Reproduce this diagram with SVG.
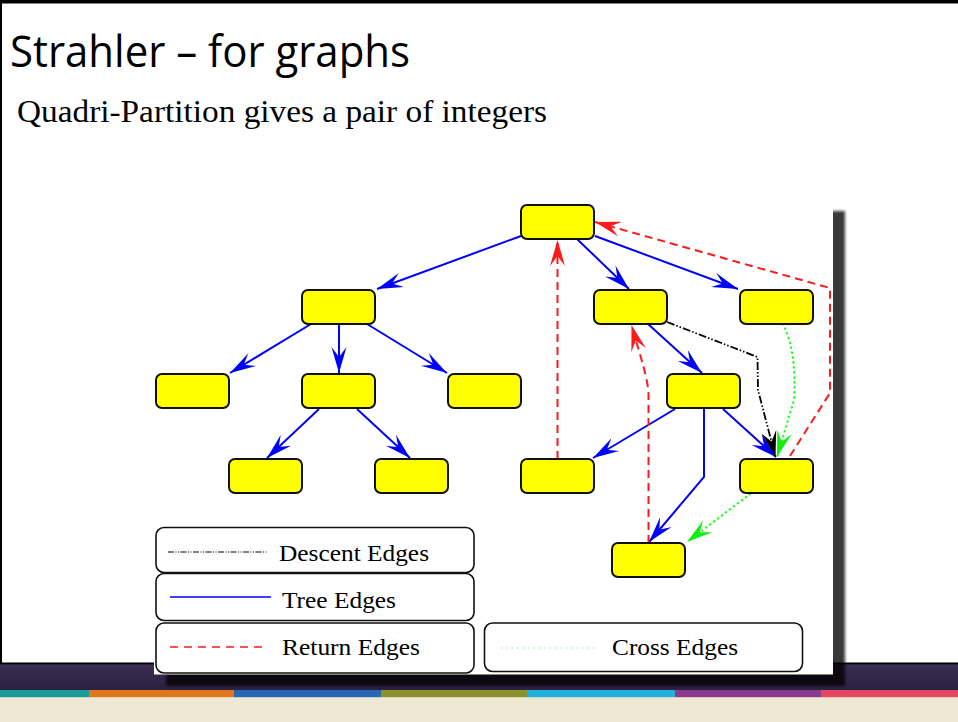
<svg xmlns="http://www.w3.org/2000/svg" width="958" height="722" viewBox="0 0 958 722">
<defs>
<style>
.node rect{fill:#ffff00;stroke:#111;stroke-width:2}
.tree{stroke:#0000ff;stroke-width:2;fill:none;marker-end:url(#mb)}
.ret{stroke:#ff1a1a;stroke-width:2;stroke-dasharray:8 5;fill:none;marker-end:url(#mr)}
.desc{stroke:#000;stroke-width:1.8;stroke-dasharray:8 2 1.5 2 1.5 2;fill:none;marker-end:url(#mk)}
.cross{stroke:#22ff22;stroke-width:2.2;stroke-dasharray:0.5 4.5;stroke-linecap:round;fill:none;marker-end:url(#mg)}
.leg rect{fill:#fff;stroke:#111;stroke-width:1.6}
.lt{font-family:"Liberation Serif","Times New Roman",serif;font-size:24px;fill:#000}
</style>
<marker id="mb" viewBox="-28 -10 30 20" refX="0" refY="0" markerWidth="30" markerHeight="20" markerUnits="userSpaceOnUse" orient="auto"><path d="M0,0 L-26,-7.5 L-16,0 L-26,7.5 Z" fill="#0000ff"/></marker>
<marker id="mr" viewBox="-28 -10 30 20" refX="0" refY="0" markerWidth="30" markerHeight="20" markerUnits="userSpaceOnUse" orient="auto"><path d="M0,0 L-26,-7.5 L-16,0 L-26,7.5 Z" fill="#ff1a1a"/></marker>
<marker id="mk" viewBox="-28 -10 30 20" refX="0" refY="0" markerWidth="30" markerHeight="20" markerUnits="userSpaceOnUse" orient="auto"><path d="M0,0 L-26,-7.5 L-16,0 L-26,7.5 Z" fill="#000"/></marker>
<marker id="mg" viewBox="-28 -10 30 20" refX="0" refY="0" markerWidth="30" markerHeight="20" markerUnits="userSpaceOnUse" orient="auto"><path d="M0,0 L-26,-7.5 L-16,0 L-26,7.5 Z" fill="#11ee11"/></marker>
<filter id="blur" x="-5%" y="-5%" width="110%" height="110%"><feGaussianBlur stdDeviation="1.8"/></filter>
<linearGradient id="band" x1="0" y1="0" x2="0" y2="1"><stop offset="0" stop-color="#3b2e54"/><stop offset="1" stop-color="#2a2140"/></linearGradient>
</defs>

<!-- slide background -->
<rect x="0" y="0" width="958" height="722" fill="#ffffff"/>
<rect x="0" y="0" width="958" height="3.5" fill="#000"/>
<rect x="0" y="0" width="2" height="664" fill="#000"/>
<rect x="0" y="663" width="958" height="28" fill="url(#band)"/>
<rect x="0" y="662.5" width="958" height="1.8" fill="#000"/>
<rect x="0" y="690" width="89" height="7.5" fill="#1b9c98"/>
<rect x="89" y="690" width="145" height="7.5" fill="#e2761a"/>
<rect x="234" y="690" width="147" height="7.5" fill="#2a68b6"/>
<rect x="381" y="690" width="146" height="7.5" fill="#8b9031"/>
<rect x="527" y="690" width="148" height="7.5" fill="#22afd9"/>
<rect x="675" y="690" width="146" height="7.5" fill="#8b3a8c"/>
<rect x="821" y="690" width="137" height="7.5" fill="#e2475f"/>
<rect x="0" y="697.5" width="958" height="24.5" fill="#eee7d2"/>

<!-- titles -->
<text x="10" y="67" font-family="'Open Sans','Noto Sans',sans-serif" font-size="44" textLength="400" lengthAdjust="spacingAndGlyphs" fill="#000">Strahler – for graphs</text>
<text x="17" y="122" font-family="'Liberation Serif','Times New Roman',serif" font-size="32" textLength="530" lengthAdjust="spacingAndGlyphs" fill="#000">Quadri-Partition gives a pair of integers</text>

<!-- figure shadow and panel -->
<rect x="166" y="211" width="679" height="475" fill="#000" fill-opacity="0.78" filter="url(#blur)"/>
<rect x="154" y="200" width="679" height="474.5" fill="#fff"/>

<!-- connectors -->
<g id="connectors">
<path class="tree" d="M521,236 L377,289"/>
<path class="tree" d="M577,239 L629,289"/>
<path class="tree" d="M595,236 L738,289"/>
<path class="tree" d="M311,324 L230,373"/>
<path class="tree" d="M339,324 L339,373"/>
<path class="tree" d="M367,324 L447,373"/>
<path class="tree" d="M319,409 L267,458"/>
<path class="tree" d="M357,409 L410,458"/>
<path class="tree" d="M648,324 L702,373"/>
<path class="tree" d="M675,409 L593,458"/>
<path class="tree" d="M723,409 L776,457"/>
<path class="tree" d="M704,409 L704,477 L649,542"/>
<path class="ret" d="M557.5,459 L557.5,240"/>
<path class="ret" d="M648.5,543 L648.5,395 C648.5,380 640,355 631.5,325"/>
<path class="ret" d="M790,456 L830,393 L830,288 L595,222"/>
<path class="desc" d="M667,322 L757.5,357 L758,390 L775.5,457"/>
<path class="cross" d="M783,324 Q797,352 794,400 L777,457"/>
<path class="cross" d="M750,494 L687,542"/>
</g>

<!-- nodes -->
<g id="n-root" class="node"><rect x="521" y="205" width="73" height="34" rx="6"/></g>
<g id="n-a" class="node"><rect x="302" y="290" width="73" height="34" rx="6"/></g>
<g id="n-b" class="node"><rect x="594" y="290" width="73" height="34" rx="6"/></g>
<g id="n-c" class="node"><rect x="740" y="290" width="73" height="34" rx="6"/></g>
<g id="n-a1" class="node"><rect x="156" y="374" width="73" height="34" rx="6"/></g>
<g id="n-a2" class="node"><rect x="302" y="374" width="73" height="34" rx="6"/></g>
<g id="n-a3" class="node"><rect x="448" y="374" width="73" height="34" rx="6"/></g>
<g id="n-b1" class="node"><rect x="667" y="374" width="73" height="34" rx="6"/></g>
<g id="n-a21" class="node"><rect x="229" y="459" width="73" height="34" rx="6"/></g>
<g id="n-a22" class="node"><rect x="375" y="459" width="73" height="34" rx="6"/></g>
<g id="n-b11" class="node"><rect x="521" y="459" width="73" height="34" rx="6"/></g>
<g id="n-e" class="node"><rect x="740" y="459" width="73" height="34" rx="6"/></g>
<g id="n-f" class="node"><rect x="612" y="543" width="73" height="34" rx="6"/></g>

<!-- legend -->
<g id="leg-descent" class="leg">
<rect x="156" y="527.5" width="318" height="45" rx="8"/>
<line x1="168" y1="552" x2="268" y2="552" stroke="#000" stroke-width="1.2" stroke-dasharray="6 1.5 1 1.5 1 1.5"/>
<text class="lt" x="279" y="561" textLength="150" lengthAdjust="spacingAndGlyphs">Descent Edges</text>
</g>
<g id="leg-tree" class="leg">
<rect x="156" y="573.5" width="318" height="47" rx="8"/>
<line x1="170" y1="597" x2="271" y2="597" stroke="#0000ff" stroke-width="1.5"/>
<text class="lt" x="282" y="608" textLength="114" lengthAdjust="spacingAndGlyphs">Tree Edges</text>
</g>
<g id="leg-return" class="leg">
<rect x="156" y="623" width="318" height="50" rx="8"/>
<line x1="170" y1="647" x2="265" y2="647" stroke="#ff1a1a" stroke-width="1.5" stroke-dasharray="8 6"/>
<text class="lt" x="282" y="655" textLength="138" lengthAdjust="spacingAndGlyphs">Return Edges</text>
</g>
<g id="leg-cross" class="leg">
<rect x="484.5" y="623" width="318" height="48.5" rx="8"/>
<line x1="501" y1="648" x2="598" y2="648" stroke="#66ff66" stroke-width="1.2" stroke-dasharray="1.2 4.2"/>
<text class="lt" x="612" y="655" textLength="126" lengthAdjust="spacingAndGlyphs">Cross Edges</text>
</g>
</svg>
